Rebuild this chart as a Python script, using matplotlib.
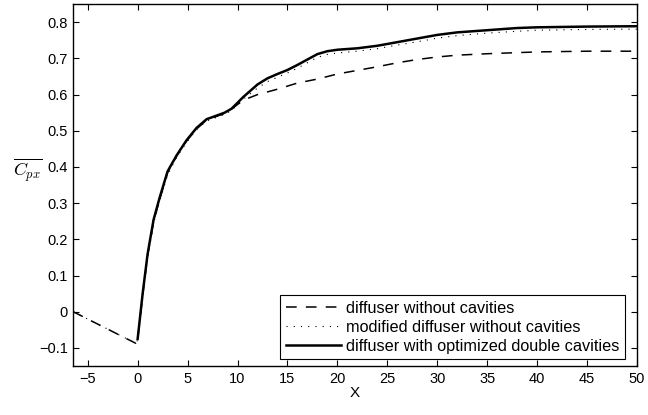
import matplotlib
matplotlib.use("Agg")
import matplotlib.pyplot as plt

plt.rcParams['font.family'] = ['Liberation Sans', 'DejaVu Sans']
plt.rcParams['mathtext.fontset'] = 'cm'

# diffuser without cavities (dashed)
x_dash = [-6.45, -0.2, 0, 0.5, 1, 1.6, 2.2, 3, 3.9, 4.9, 5.9, 6.9, 7.9, 8.7, 9.4,
          10.6, 12, 14, 16, 18, 20, 22, 24, 26, 28, 30, 32, 35, 38, 40, 45, 50]
y_dash = [0, -0.087, -0.078, 0.045, 0.155, 0.25, 0.31, 0.385, 0.43, 0.472, 0.505, 0.53, 0.54, 0.548, 0.56,
          0.585, 0.6, 0.615, 0.632, 0.643, 0.657, 0.667, 0.677, 0.688, 0.697, 0.704, 0.709, 0.713, 0.716,
          0.718, 0.72, 0.72]

# modified diffuser without cavities (dotted)
x_dot = [-6.45, -0.2, 0, 0.5, 1, 1.6, 2.2, 3, 3.9, 4.9, 5.9, 6.9, 7.9, 8.7, 9.4, 10.6,
         12, 13, 14, 15, 16, 17, 18, 19, 20, 22, 24, 26, 28, 30, 32, 35, 38, 40, 45, 50]
y_dot = [0, -0.087, -0.078, 0.04, 0.15, 0.245, 0.305, 0.378, 0.427, 0.468, 0.503, 0.527, 0.537, 0.545,
         0.556, 0.588, 0.618, 0.636, 0.648, 0.66, 0.673, 0.688, 0.703, 0.711, 0.715, 0.72, 0.727, 0.737,
         0.746, 0.756, 0.763, 0.77, 0.775, 0.778, 0.780, 0.781]

# diffuser with optimized double cavities (solid)
x_sol = [0, 0.5, 1, 1.6, 2.2, 3, 3.9, 4.9, 5.9, 6.9, 7.9, 8.7, 9.4, 10.6, 12, 13, 14, 15, 16,
         17, 18, 19, 20, 22, 24, 26, 28, 30, 32, 35, 38, 40, 45, 50]
y_sol = [-0.075, 0.05, 0.16, 0.255, 0.315, 0.388, 0.432, 0.474, 0.508, 0.532, 0.542, 0.55, 0.561,
         0.594, 0.628, 0.645, 0.657, 0.668, 0.682, 0.697, 0.712, 0.72, 0.724, 0.728, 0.735, 0.745,
         0.755, 0.765, 0.772, 0.778, 0.784, 0.786, 0.788, 0.789]

labels = ["diffuser without cavities",
          "modified diffuser without cavities",
          "diffuser with optimized double cavities"]

fig = plt.figure(figsize=(6.48, 4.15), dpi=100)
ax = fig.add_axes([0.113, 0.118, 0.870, 0.872])

ax.plot(x_dash, y_dash, color='black', lw=1.1, linestyle=(0, (7, 6)), label=labels[0])
ax.plot(x_dot, y_dot, color='black', lw=0.8, linestyle=(0, (1, 5.5)), label=labels[1])
ax.plot(x_sol, y_sol, color='black', lw=1.8, linestyle='-', label=labels[2])

ax.set_xlim(-6.45, 50)
ax.set_ylim(-0.15, 0.85)
ax.set_xticks(range(-5, 51, 5))
ax.set_yticks([-0.1, 0, 0.1, 0.2, 0.3, 0.4, 0.5, 0.6, 0.7, 0.8])
ax.set_yticklabels(['\u22120.1', '0', '0.1', '0.2', '0.3', '0.4', '0.5', '0.6', '0.7', '0.8'])
ax.set_xticklabels(['\u22125'] + [str(v) for v in range(0, 51, 5)])
ax.tick_params(direction='in', top=True, right=True, length=4, width=0.8, labelsize=10.5, pad=4)
for s in ax.spines.values():
    s.set_linewidth(1.0)

ax.set_xlabel('X', fontsize=11, labelpad=0)
ax.set_ylabel(r'$\overline{C_{px}}$', fontsize=13, rotation=0, ha='center', va='center')
ax.yaxis.set_label_coords(-0.08, 0.54)

leg = ax.legend(loc='lower right', bbox_to_anchor=(0.979, 0.0185), borderaxespad=0,
                fontsize=11.7, handlelength=3.4, labelspacing=0.25, handletextpad=0.3,
                fancybox=False, framealpha=1, borderpad=0.35)
leg.get_frame().set_edgecolor('black')
leg.get_frame().set_linewidth(0.8)

fig.savefig('out.png', dpi=100)
